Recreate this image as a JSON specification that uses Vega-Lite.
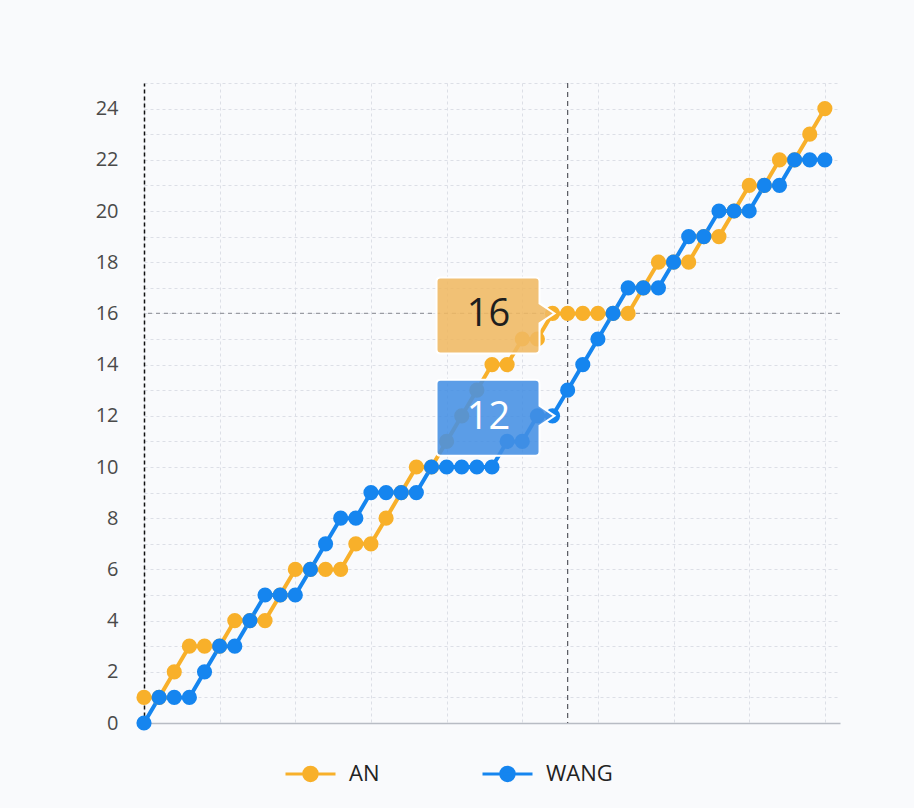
{
  "$schema": "https://vega.github.io/schema/vega-lite/v6.json",
  "width": 696,
  "height": 640,
  "autosize": {"type": "none"},
  "padding": {"left": 144, "top": 83, "right": 74, "bottom": 85},
  "background": "#f9fafc",
  "datasets": {
    "scores": [
      {"i": 0, "name": "AN", "score": 1}, {"i": 1, "name": "AN", "score": 1}, {"i": 2, "name": "AN", "score": 2},
      {"i": 3, "name": "AN", "score": 3}, {"i": 4, "name": "AN", "score": 3}, {"i": 5, "name": "AN", "score": 3},
      {"i": 6, "name": "AN", "score": 4}, {"i": 7, "name": "AN", "score": 4}, {"i": 8, "name": "AN", "score": 4},
      {"i": 9, "name": "AN", "score": 5}, {"i": 10, "name": "AN", "score": 6}, {"i": 11, "name": "AN", "score": 6},
      {"i": 12, "name": "AN", "score": 6}, {"i": 13, "name": "AN", "score": 6}, {"i": 14, "name": "AN", "score": 7},
      {"i": 15, "name": "AN", "score": 7}, {"i": 16, "name": "AN", "score": 8}, {"i": 17, "name": "AN", "score": 9},
      {"i": 18, "name": "AN", "score": 10}, {"i": 19, "name": "AN", "score": 10}, {"i": 20, "name": "AN", "score": 11},
      {"i": 21, "name": "AN", "score": 12}, {"i": 22, "name": "AN", "score": 13}, {"i": 23, "name": "AN", "score": 14},
      {"i": 24, "name": "AN", "score": 14}, {"i": 25, "name": "AN", "score": 15}, {"i": 26, "name": "AN", "score": 15},
      {"i": 27, "name": "AN", "score": 16}, {"i": 28, "name": "AN", "score": 16}, {"i": 29, "name": "AN", "score": 16},
      {"i": 30, "name": "AN", "score": 16}, {"i": 31, "name": "AN", "score": 16}, {"i": 32, "name": "AN", "score": 16},
      {"i": 33, "name": "AN", "score": 17}, {"i": 34, "name": "AN", "score": 18}, {"i": 35, "name": "AN", "score": 18},
      {"i": 36, "name": "AN", "score": 18}, {"i": 37, "name": "AN", "score": 19}, {"i": 38, "name": "AN", "score": 19},
      {"i": 39, "name": "AN", "score": 20}, {"i": 40, "name": "AN", "score": 21}, {"i": 41, "name": "AN", "score": 21},
      {"i": 42, "name": "AN", "score": 22}, {"i": 43, "name": "AN", "score": 22}, {"i": 44, "name": "AN", "score": 23},
      {"i": 45, "name": "AN", "score": 24},
      {"i": 0, "name": "WANG", "score": 0}, {"i": 1, "name": "WANG", "score": 1}, {"i": 2, "name": "WANG", "score": 1},
      {"i": 3, "name": "WANG", "score": 1}, {"i": 4, "name": "WANG", "score": 2}, {"i": 5, "name": "WANG", "score": 3},
      {"i": 6, "name": "WANG", "score": 3}, {"i": 7, "name": "WANG", "score": 4}, {"i": 8, "name": "WANG", "score": 5},
      {"i": 9, "name": "WANG", "score": 5}, {"i": 10, "name": "WANG", "score": 5}, {"i": 11, "name": "WANG", "score": 6},
      {"i": 12, "name": "WANG", "score": 7}, {"i": 13, "name": "WANG", "score": 8}, {"i": 14, "name": "WANG", "score": 8},
      {"i": 15, "name": "WANG", "score": 9}, {"i": 16, "name": "WANG", "score": 9}, {"i": 17, "name": "WANG", "score": 9},
      {"i": 18, "name": "WANG", "score": 9}, {"i": 19, "name": "WANG", "score": 10}, {"i": 20, "name": "WANG", "score": 10},
      {"i": 21, "name": "WANG", "score": 10}, {"i": 22, "name": "WANG", "score": 10}, {"i": 23, "name": "WANG", "score": 10},
      {"i": 24, "name": "WANG", "score": 11}, {"i": 25, "name": "WANG", "score": 11}, {"i": 26, "name": "WANG", "score": 12},
      {"i": 27, "name": "WANG", "score": 12}, {"i": 28, "name": "WANG", "score": 13}, {"i": 29, "name": "WANG", "score": 14},
      {"i": 30, "name": "WANG", "score": 15}, {"i": 31, "name": "WANG", "score": 16}, {"i": 32, "name": "WANG", "score": 17},
      {"i": 33, "name": "WANG", "score": 17}, {"i": 34, "name": "WANG", "score": 17}, {"i": 35, "name": "WANG", "score": 18},
      {"i": 36, "name": "WANG", "score": 19}, {"i": 37, "name": "WANG", "score": 19}, {"i": 38, "name": "WANG", "score": 20},
      {"i": 39, "name": "WANG", "score": 20}, {"i": 40, "name": "WANG", "score": 20}, {"i": 41, "name": "WANG", "score": 21},
      {"i": 42, "name": "WANG", "score": 21}, {"i": 43, "name": "WANG", "score": 22}, {"i": 44, "name": "WANG", "score": 22},
      {"i": 45, "name": "WANG", "score": 22}
    ]
  },
  "data": {"name": "scores"},
  "encoding": {
    "x": {
      "field": "i",
      "type": "quantitative",
      "scale": {"domain": [0, 46], "nice": false, "zero": true},
      "axis": {
        "title": null,
        "labels": false,
        "ticks": false,
        "values": [0, 5, 10, 15, 20, 25, 30, 35, 40, 45],
        "domainColor": "#b8bcc4",
        "domainWidth": 1.5,
        "gridColor": "#dcdfe6",
        "gridDash": [3, 3]
      }
    },
    "y": {
      "field": "score",
      "type": "quantitative",
      "scale": {"domain": [0, 25], "nice": false},
      "axis": {
        "title": null,
        "ticks": false,
        "values": [0, 1, 2, 3, 4, 5, 6, 7, 8, 9, 10, 11, 12, 13, 14, 15, 16, 17, 18, 19, 20, 21, 22, 23, 24, 25],
        "labelExpr": "datum.value % 2 == 0 && datum.value < 25 ? datum.label : ''",
        "labelFont": "Open Sans",
        "labelFontSize": 20,
        "labelColor": "#4a4a4a",
        "labelPadding": 26,
        "domainColor": "#111111",
        "domainDash": [4, 3],
        "domainWidth": 1.5,
        "gridColor": "#dcdfe6",
        "gridDash": [3, 3]
      }
    }
  },
  "layer": [
    {
      "transform": [{"filter": "datum.i == 28 && datum.name == 'AN'"}],
      "mark": {"type": "rule", "color": "#9a9ca3", "strokeDash": [4, 4], "strokeWidth": 1.2},
      "encoding": {"x": null}
    },
    {
      "transform": [{"filter": "datum.i == 28 && datum.name == 'AN'"}],
      "mark": {"type": "rule", "color": "#55575e", "strokeDash": [5, 4], "strokeWidth": 1.2},
      "encoding": {"y": null}
    },
    {
      "mark": {"type": "line", "strokeWidth": 4},
      "encoding": {
        "color": {
          "field": "name",
          "type": "nominal",
          "scale": {"domain": ["AN", "WANG"], "range": ["#f8b02a", "#1585ef"]},
          "legend": {
            "orient": "none",
            "legendX": 140,
            "legendY": 664,
            "direction": "horizontal",
            "title": null,
            "symbolType": "M-1,0L1,0M-0.27,0A0.27,0.27 0 1,0 0.27,0A0.27,0.27 0 1,0 -0.27,0Z",
            "symbolSize": 2500,
            "symbolStrokeWidth": 3,
            "labelFont": "Open Sans",
            "labelFontSize": 22,
            "labelColor": "#222222",
            "labelOffset": 12,
            "columnPadding": 96,
            "encode": {
              "symbols": {
                "update": {
                  "fill": {"scale": "color", "field": "value"},
                  "stroke": {"scale": "color", "field": "value"},
                  "opacity": {"value": 1}
                }
              }
            }
          }
        },
        "detail": {"field": "name"}
      }
    },
    {
      "mark": {"type": "point", "filled": true, "size": 230, "opacity": 1},
      "encoding": {
        "color": {"field": "name", "type": "nominal"}
      }
    },
    {
      "transform": [{"filter": "datum.i == 27"}],
      "mark": {
        "type": "point",
        "shape": "M-1.12,-0.36L-0.17,-0.36Q-0.13,-0.36 -0.13,-0.32L-0.13,-0.1L0.02,0L-0.13,0.1L-0.13,0.36Q-0.13,0.4 -0.17,0.4L-1.12,0.4Q-1.16,0.4 -1.16,0.36L-1.16,-0.32Q-1.16,-0.36 -1.12,-0.36Z",
        "size": 40000,
        "filled": true,
        "fillOpacity": 0.88,
        "stroke": "#ffffff",
        "strokeWidth": 2,
        "strokeOpacity": 1
      },
      "encoding": {
        "fill": {
          "condition": {"test": "datum.name == 'AN'", "value": "#efb862"},
          "value": "#4490e4"
        }
      }
    },
    {
      "transform": [{"filter": "datum.i == 27"}],
      "mark": {
        "type": "text",
        "dx": -64,
        "dy": 2,
        "align": "center",
        "baseline": "middle",
        "font": "Open Sans",
        "fontSize": 38
      },
      "encoding": {
        "text": {"field": "score", "type": "quantitative"},
        "color": {
          "condition": {"test": "datum.name == 'AN'", "value": "#1e1e1e"},
          "value": "#ffffff"
        }
      }
    }
  ],
  "config": {
    "view": {"stroke": null}
  }
}
